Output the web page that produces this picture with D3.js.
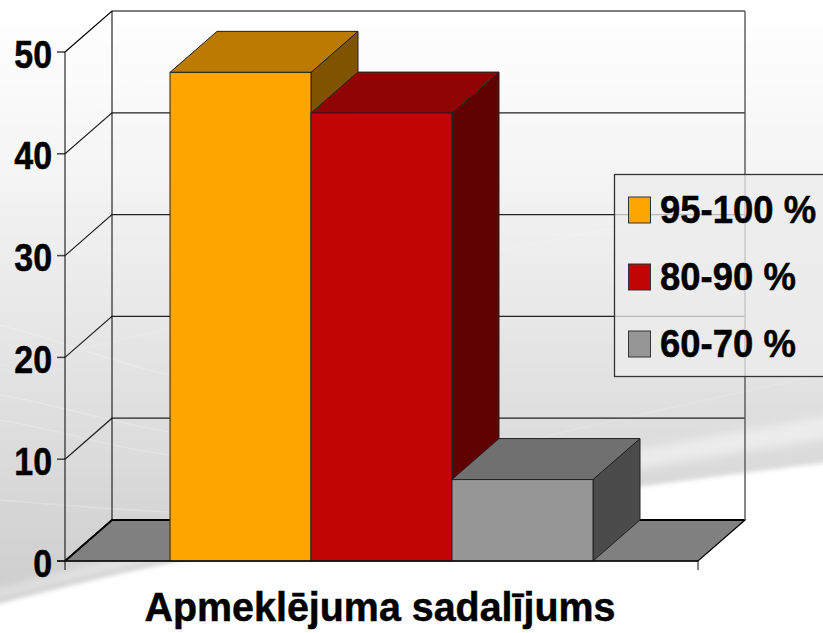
<!DOCTYPE html>
<html><head><meta charset="utf-8">
<script src="https://cdn.jsdelivr.net/npm/d3@7"></script>
<style>html,body{margin:0;padding:0;background:#fff}svg{display:block}text{font-family:"Liberation Sans",Arial,sans-serif;font-weight:bold;fill:#000;stroke:#000;stroke-width:.5px}</style>
</head><body><svg id="c" width="823" height="633"></svg>
<script>
const seriesNames = ["95-100 %", "80-90 %", "60-70 %"];
const seriesValues = [48, 44, 8];
const faceColors = ["#FFA500", "#C00505", "#969696"];
const topColors = ["#BC7A00", "#900303", "#707070"];
const sideColors = ["#7F5300", "#600202", "#4B4B4B"];
const yTicks = [0, 10, 20, 30, 40, 50];
const axisTitle = "Apmeklējuma sadalījums";

const W = 823, H = 633;
const dx = 47, dy = -41;
const svg = d3.select("#c");
const y = d3.scaleLinear().domain([0, 50]).range([561, 52]);
const x = d3.scaleBand().domain(seriesNames).range([170, 593]).padding(0);
const x0 = 65, x1 = 698;
const line = d3.line();

// Background
const defs = svg.append("defs");
const g1 = defs.append("linearGradient").attr("id", "bg").attr("gradientUnits", "userSpaceOnUse")
  .attr("x1", 0).attr("y1", 0).attr("x2", 0).attr("y2", 600);
[[0, "#ffffff"], [.1, "#fcfcfc"], [.3, "#f4f4f4"], [.55, "#e6e6e6"], [.75, "#dcdcdc"], [1, "#cdcdcd"]].forEach(s =>
  g1.append("stop").attr("offset", s[0]).attr("stop-color", s[1]));
const soft = defs.append("filter").attr("id", "soft").attr("x", "-5%").attr("y", "-5%").attr("width", "110%").attr("height", "110%");
soft.append("feGaussianBlur").attr("stdDeviation", 2);
const soft2 = defs.append("filter").attr("id", "soft2").attr("x", "-5%").attr("y", "-20%").attr("width", "110%").attr("height", "140%");
soft2.append("feGaussianBlur").attr("stdDeviation", 4);
svg.append("rect").attr("width", W).attr("height", H).attr("fill", "#fff");
svg.append("path")
  .attr("d", "M-10,-10H833V462C720,476 640,486 460,512C300,535 140,565 -10,606Z")
  .attr("fill", "url(#bg)").attr("filter", "url(#soft)");
// light sweep above the lower edge
svg.append("path")
  .attr("d", "M833,415C740,432 640,448 460,482C300,512 130,555 -10,592L-10,600C130,565 300,525 460,497C640,468 740,452 833,438Z")
  .attr("fill", "#fff").attr("fill-opacity", .45).attr("filter", "url(#soft2)");
// faint streaks
[["M0,150C70,125 130,90 200,55", .22], ["M0,395C60,405 120,425 170,432", .22], ["M0,325C60,340 120,365 170,375", .18],
 ["M0,500C60,505 120,510 170,512", .22], ["M0,420C60,430 120,450 170,455", .18],
 ["M170,510C300,505 500,440 823,375", .14], ["M0,365C200,330 420,250 823,195", .12]].forEach(s =>
  svg.append("path").attr("d", s[0]).attr("fill", "none").attr("stroke", "#fff")
     .attr("stroke-width", 1.6).attr("stroke-opacity", s[1]));

// Floor
svg.append("path").attr("d", line([[x0, y(0)], [x0 + dx, y(0) + dy], [x1 + dx, y(0) + dy], [x1, y(0)]]) + "Z")
  .attr("fill", "#808080").attr("stroke", "#000").attr("stroke-width", 1.2);

// Grid
const grid = svg.append("g").attr("fill", "none").attr("stroke", "#000").attr("stroke-width", 1);
yTicks.forEach(t => {
  grid.append("path").attr("d", line([[x0, y(t)], [x0 + dx, y(t) + dy], [x1 + dx, y(t) + dy]]))
    .attr("stroke-width", t === 0 ? 2 : 1.2).attr("stroke", t === 0 || t === 50 ? "#000" : "#222");
  grid.append("path").attr("d", line([[x0 - 8, y(t)], [x0, y(t)]])).attr("stroke", "#444").attr("stroke-width", 1.5);
});
grid.append("path").attr("d", line([[x0, y(50)], [x0, y(0) + 9]]));
grid.append("path").attr("d", line([[x0 + dx, y(50) + dy], [x0 + dx, y(0) + dy]]));
grid.append("path").attr("d", line([[x1 + dx, y(50) + dy], [x1 + dx, y(0) + dy]])).attr("stroke", "#555").attr("stroke-width", 1.4);

// Bars
const bars = svg.append("g").attr("stroke", "#222").attr("stroke-width", 1);
seriesNames.forEach((n, i) => {
  const l = x(n), r = l + x.bandwidth(), t = y(seriesValues[i]), b = y(0);
  bars.append("path").attr("d", line([[r, b], [r + dx, b + dy], [r + dx, t + dy], [r, t]]) + "Z").attr("fill", sideColors[i]);
  bars.append("path").attr("d", line([[l, t], [l + dx, t + dy], [r + dx, t + dy], [r, t]]) + "Z").attr("fill", topColors[i]);
  bars.append("rect").attr("x", l).attr("y", t).attr("width", r - l).attr("height", b - t).attr("fill", faceColors[i]);
});

// Base axis
svg.append("path").attr("d", line([[x0 - 8, y(0)], [x1, y(0)]])).attr("stroke", "#111").attr("stroke-width", 1.6).attr("fill", "none");
svg.append("path").attr("d", line([[x1, y(0)], [x1, y(0) + 9]])).attr("stroke", "#111").attr("stroke-width", 1).attr("fill", "none");

// Tick labels
svg.append("g").selectAll("text").data(yTicks).join("text")
  .attr("transform", d => `translate(52,${y(d) + 15.5}) scale(.87,1)`)
  .attr("text-anchor", "end").attr("font-size", 39)
  .text(d => d);

// Axis title
svg.append("text").attr("transform", "translate(380,621) scale(.95,1)").attr("text-anchor", "middle")
  .attr("font-size", 41.5).text(axisTitle);

// Legend
const legendRowY = d3.scalePoint().domain(seriesNames).range([210, 344]);
svg.append("rect").attr("x", 614.5).attr("y", 174.5).attr("width", 220).attr("height", 202)
  .attr("fill", "#ececec").attr("fill-opacity", .75).attr("stroke", "#333").attr("stroke-width", 1.3);
const leg = svg.append("g").selectAll("g").data(seriesNames).join("g")
  .attr("transform", d => `translate(0,${legendRowY(d)})`);
leg.append("rect").attr("x", 628.5).attr("y", -13).attr("width", 22).attr("height", 26)
  .attr("fill", (d, i) => faceColors[i]).attr("stroke", "#333");
leg.append("text").attr("transform", "translate(660,13) scale(.935,1)").attr("font-size", 39).text(d => d);
</script></body></html>
